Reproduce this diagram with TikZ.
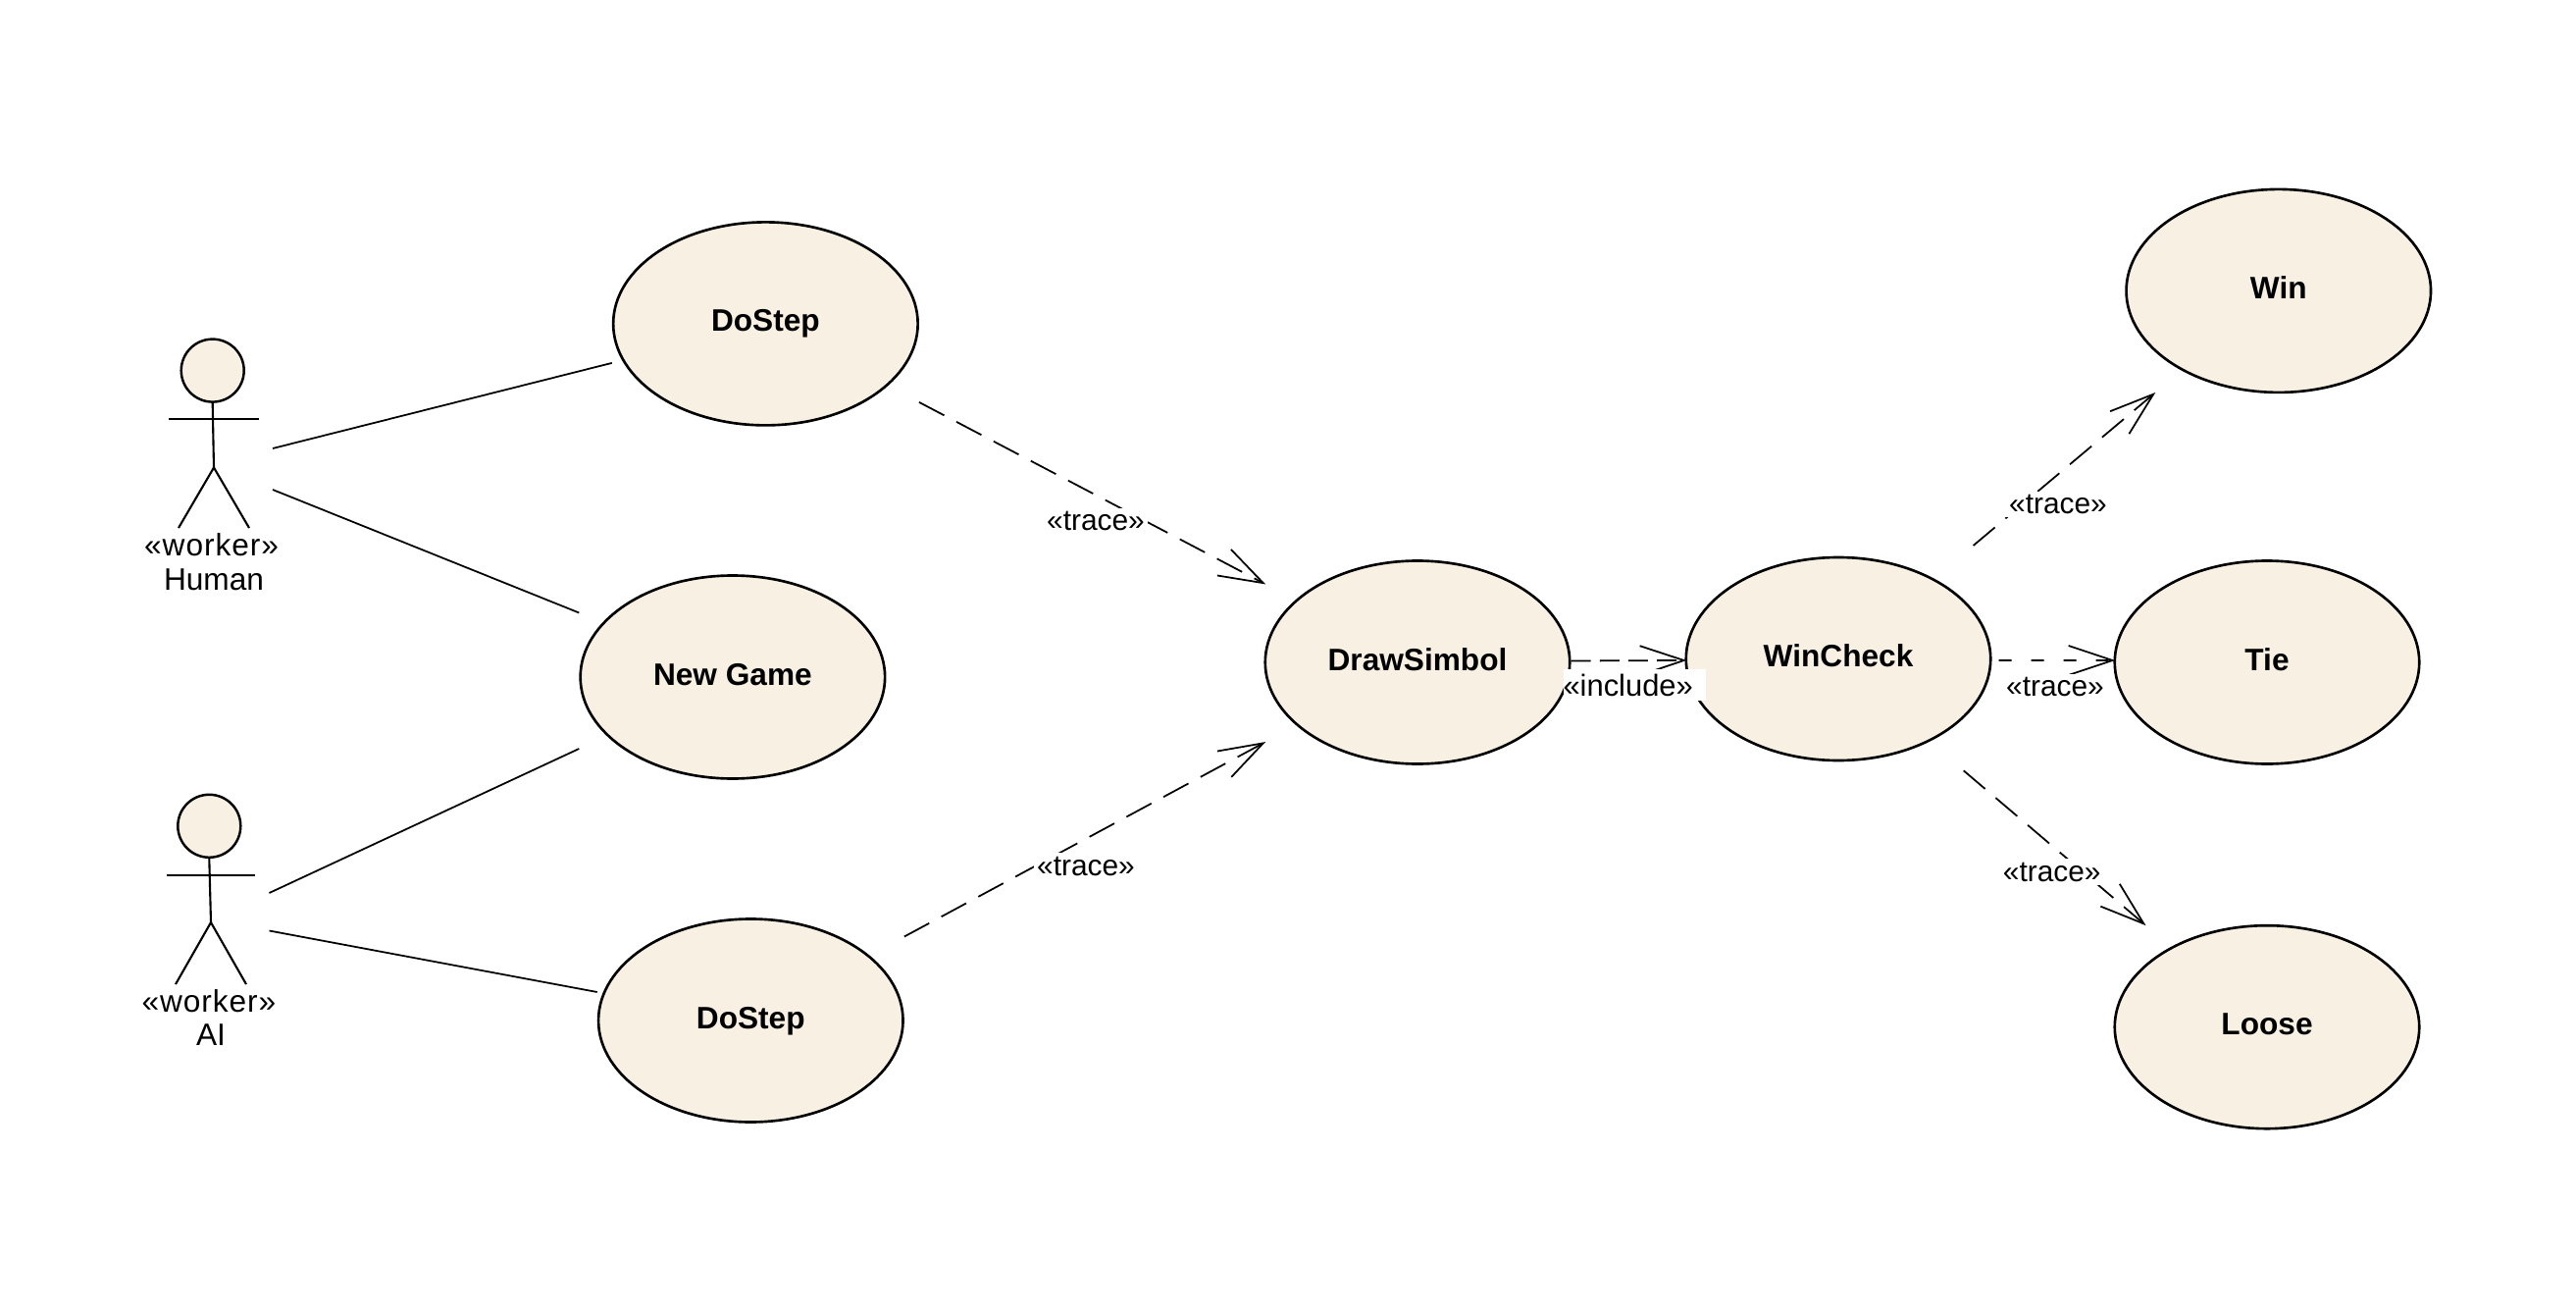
\documentclass[tikz,border=0pt]{standalone}
\usepackage{fontspec}
\setmainfont{Liberation Sans}
\newfontfamily\rolefont[LetterSpace=3]{Liberation Sans}
\usetikzlibrary{arrows.meta, shapes.geometric}

\definecolor{usecasefill}{HTML}{F8F0E2}

\begin{document}
\begin{tikzpicture}[
        usecase/.style={ellipse, draw=black, fill=usecasefill, line width=0.75pt, minimum width=3.105cm, minimum height=2.07cm, inner sep=0pt, text height=6.4pt, text depth=1.8pt, font=\fontsize{9}{11}\selectfont\bfseries},
        actorhead/.style={circle, draw=black, fill=usecasefill, line width=0.7pt, minimum size=0.64cm, inner sep=0pt},
        actorline/.style={line width=0.6pt},
        actorlabel/.style={inner sep=0pt, font=\fontsize{9}{11}\selectfont},
        rolelabel/.style={inner sep=0pt, font=\fontsize{9}{11}\selectfont\rolefont},
        assoc/.style={line width=0.5pt},
        trace/.style={-{Straight Barb[length=4.5mm, width=3mm]}, line width=0.5pt, shorten >=-0.2mm, dash pattern=on 8.2pt off 4pt},
        tracelabel/.style={fill=white, inner sep=1pt, font=\fontsize{8.5}{10}\selectfont},
    ]
        \useasboundingbox (0,0) rectangle (26.26,-13.34);

        \node[usecase] (dostep_top) at (7.804,-3.299) {DoStep};
        \node[usecase] (newgame) at (7.469,-6.90) {New Game};
        \node[usecase] (dostep_low) at (7.653,-10.40) {DoStep};
        \node[usecase] (drawsimbol) at (14.45,-6.75) {DrawSimbol};
        \node[usecase] (wincheck) at (18.74,-6.715) {WinCheck};
        \node[usecase] (win) at (23.228,-2.964) {Win};
        \node[usecase] (tie) at (23.11,-6.75) {Tie};
        \node[usecase] (loose) at (23.11,-10.467) {Loose};

        % actors
        \node[actorhead] (human) at (2.167,-3.776) {};
        \draw[actorline] (human.south) -- (2.18,-4.765) coordinate (human_hip);
        \draw[actorline] (1.72,-4.27) -- (2.64,-4.27);
        \draw[actorline] (1.82,-5.38) -- (human_hip) -- (2.54,-5.38);
        \node[rolelabel] (human_role) at (2.156,-5.55) {«worker»};
        \node[actorlabel] (human_name) at (2.18,-5.91) {Human};

        \node[actorhead] (ai) at (2.133,-8.418) {};
        \draw[actorline] (ai.south) -- (2.15,-9.40) coordinate (ai_hip);
        \draw[actorline] (1.70,-8.92) -- (2.60,-8.92);
        \draw[actorline] (1.79,-10.03) -- (ai_hip) -- (2.51,-10.03);
        \node[rolelabel] (ai_role) at (2.13,-10.20) {«worker»};
        \node[actorlabel] (ai_name) at (2.15,-10.55) {AI};

        \coordinate (human_a) at (2.78,-4.57);
        \coordinate (human_b) at (2.78,-4.99);
        \coordinate (ai_a) at (2.745,-9.10);
        \coordinate (ai_b) at (2.745,-9.485);

        \draw[assoc] (human_a) -- ([yshift=-0.40cm]dostep_top.west);
        \draw[assoc] (human_b) -- ([yshift=0.655cm]newgame.west);
        \draw[assoc] (ai_a) -- ([yshift=-0.73cm]newgame.west);
        \draw[assoc] (ai_b) -- ([yshift=0.29cm]dostep_low.west);

        \draw[trace] ([yshift=-0.80cm]dostep_top.east) -- ([yshift=0.805cm]drawsimbol.west);
        \draw[trace] ([yshift=0.855cm]dostep_low.east) -- ([yshift=-0.82cm]drawsimbol.west);
        \draw[trace, dash pattern=on 5.7pt off 2.6pt] ([yshift=0.015cm]drawsimbol.east) -- ([yshift=-0.015cm]wincheck.west);
        \draw[trace] ([xshift=-0.19cm, yshift=1.155cm]wincheck.east) -- ([xshift=-1.27cm]win.south);
        \draw[trace, dash pattern=on 3.7pt off 5.7pt] ([xshift=0.07cm, yshift=-0.015cm]wincheck.east) -- ([yshift=0.02cm]tie.west);
        \draw[trace] ([xshift=1.277cm, yshift=-0.09cm]wincheck.south) -- ([xshift=-1.25cm]loose.north);

        \node[tracelabel] (trace_a) at (11.17,-5.31) {«trace»};
        \node[tracelabel] (trace_b) at (11.07,-8.825) {«trace»};
        \node[tracelabel, inner sep=0pt, minimum height=0.32cm, text width=1.45cm, font=\fontsize{8.8}{10}\selectfont] (include) at (16.66,-6.98) {«include»};
        \node[tracelabel] (trace_c) at (20.98,-5.14) {«trace»};
        \node[tracelabel] (trace_d) at (20.95,-7.00) {«trace»};
        \node[tracelabel] (trace_e) at (20.917,-8.886) {«trace»};
    \end{tikzpicture}
\end{document}
